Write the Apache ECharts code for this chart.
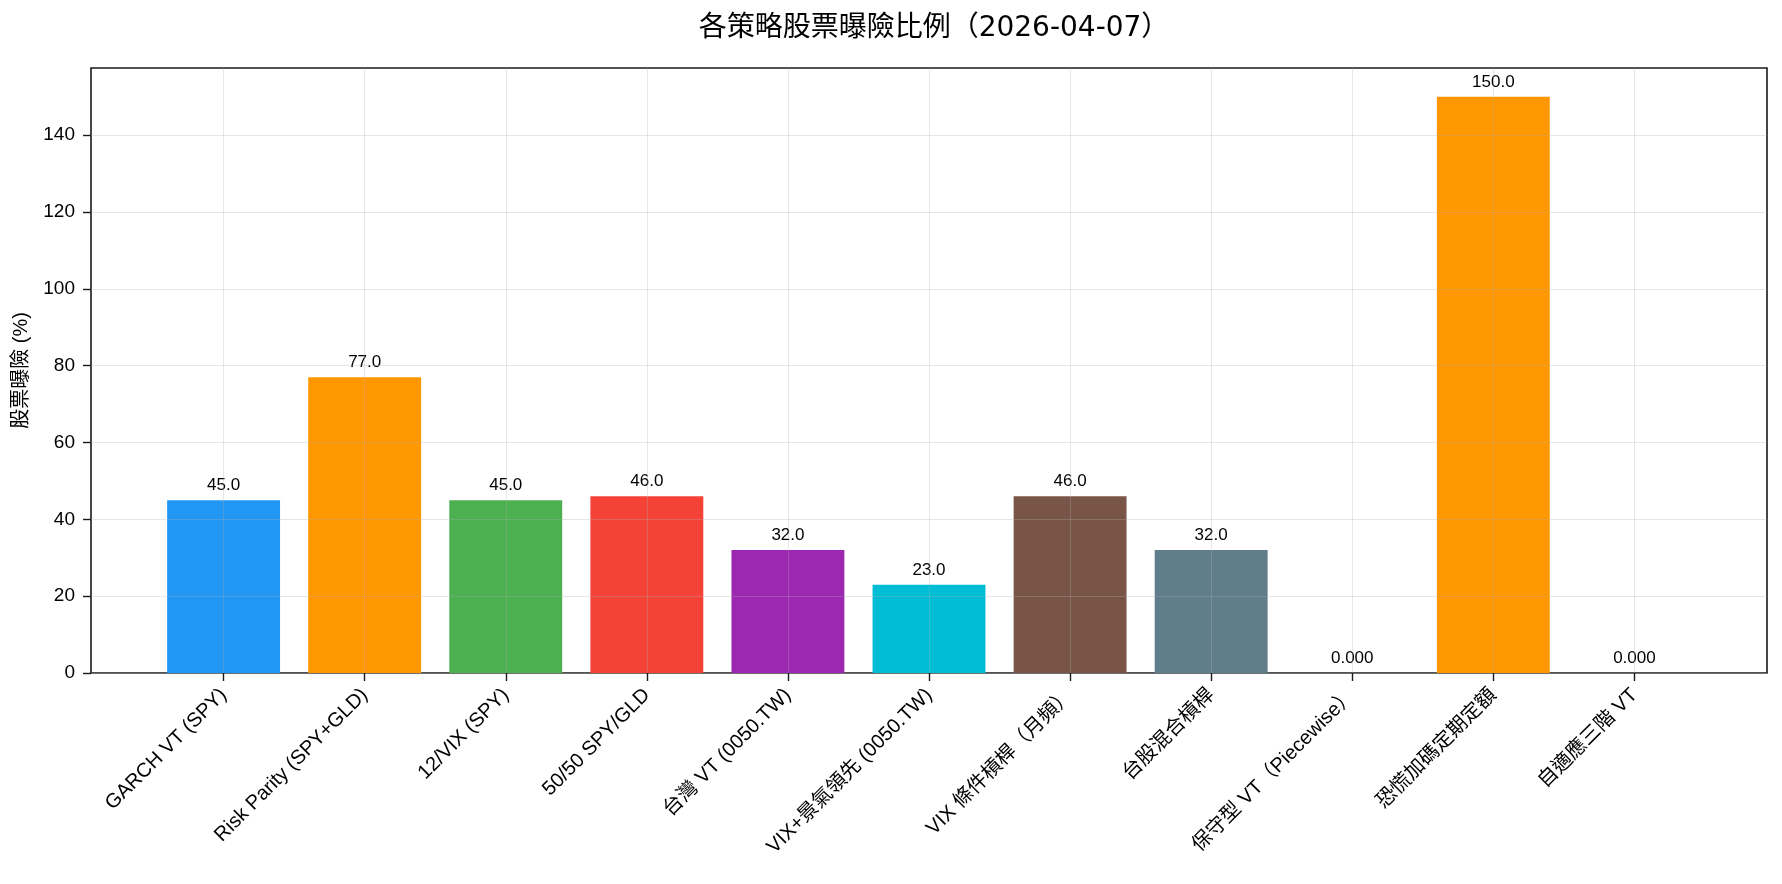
<!DOCTYPE html>
<html>
<head>
<meta charset="utf-8">
<script src="https://cdn.jsdelivr.net/npm/echarts@6/dist/echarts.min.js"></script>
<style>
  html, body { margin: 0; padding: 0; background: #fff; }
  #chart { width: 1782px; height: 884px; }
</style>
</head>
<body>
<div id="chart"></div>
<script>
  // 各策略股票曝險比例
  const categories = [
    'GARCH VT (SPY)', 'Risk Parity (SPY+GLD)', '12/VIX (SPY)', '50/50 SPY/GLD',
    '台灣 VT (0050.TW)', 'VIX+景氣領先 (0050.TW)', 'VIX 條件槓桿（月頻）', '台股混合槓桿',
    '保守型 VT（Piecewise）', '恐慌加碼定期定額', '自適應三階 VT'
  ];
  const exposure = [45, 77, 45, 46, 32, 23, 46, 32, 0, 150, 0];
  const barLabels = ['45.0', '77.0', '45.0', '46.0', '32.0', '23.0', '46.0', '32.0', '0.000', '150.0', '0.000'];
  const barColors = ['#2196F3', '#FF9800', '#4CAF50', '#F44336', '#9C27B0', '#00BCD4',
    '#795548', '#607D8B', '#E91E63', '#FF9800', '#3F51B5'];
  const yTicks = [0, 20, 40, 60, 80, 100, 120, 140];
  const yMax = 157.5;

  const font = '"Liberation Sans", "Noto Sans CJK TC", sans-serif';
  const titleFont = '"DejaVu Sans", "Noto Sans CJK TC", sans-serif';
  const gridColor = 'rgba(176,176,176,0.3)';

  let chart = echarts.init(document.getElementById('chart'));
  let option = {
    backgroundColor: '#fff',
    animation: false,
    textStyle: { fontFamily: font },
    title: {
      text: '各策略股票曝險比例（2026-04-07）',
      left: 929,
      textAlign: 'center',
      top: 10,
      textStyle: { fontSize: 28, fontWeight: 'normal', color: '#000', fontFamily: titleFont }
    },
    grid: [
      // inner grid: category centres at the first/last tick
      { left: 223.6, right: 147.6, top: 68, bottom: 211 },
      // outer grid: frame + y axis
      { left: 91, right: 15, top: 68, bottom: 211, show: true, borderColor: '#1a1a1a', borderWidth: 1.6,
        backgroundColor: 'transparent' }
    ],
    xAxis: [
      {
        gridIndex: 0,
        type: 'category',
        data: categories,
        boundaryGap: false,
        z: 3,
        axisLine: { show: false },
        axisTick: { show: true, length: 8, lineStyle: { color: '#1a1a1a', width: 1.4 } },
        axisLabel: { rotate: 45, interval: 0, fontSize: 20, color: '#000', margin: 19, fontFamily: font },
        splitLine: { show: true, lineStyle: { color: gridColor, width: 1 } }
      },
      { gridIndex: 1, type: 'value', min: 0, max: 1, show: false }
    ],
    yAxis: [
      { gridIndex: 0, type: 'value', min: 0, max: yMax, show: false },
      {
        gridIndex: 1,
        type: 'value',
        min: 0,
        max: yMax,
        z: 3,
        name: '股票曝險 (%)',
        nameLocation: 'middle',
        nameGap: 60,
        nameTextStyle: { fontSize: 20, color: '#000', fontFamily: font },
        axisLine: { show: false },
        axisTick: { show: true, length: 8, customValues: yTicks, lineStyle: { color: '#1a1a1a', width: 1.4 } },
        axisLabel: { fontSize: 19, color: '#000', margin: 16, customValues: yTicks, fontFamily: font },
        splitLine: { show: true, lineStyle: { color: gridColor, width: 1 } }
      }
    ],
    series: [
      {
        type: 'bar',
        xAxisIndex: 0,
        yAxisIndex: 0,
        clip: false,
        barWidth: 112.9,
        data: exposure.map((v, i) => ({ value: v, itemStyle: { color: barColors[i] } })),
        label: {
          show: true,
          position: 'top',
          distance: 6,
          fontSize: 17,
          color: '#000',
          fontFamily: font,
          formatter: p => barLabels[p.dataIndex]
        }
      }
    ]
  };
  chart.setOption(option);
</script>
</body>
</html>
